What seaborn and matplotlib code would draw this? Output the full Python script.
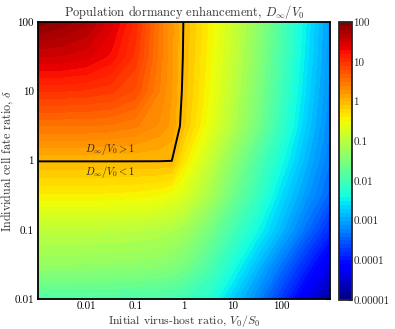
import numpy as np
import matplotlib
matplotlib.use('Agg')
import matplotlib.pyplot as plt
import seaborn as sns

sns.set_style('white')
plt.rcParams['font.family'] = ['cmr10', 'DejaVu Serif']
plt.rcParams['mathtext.fontset'] = 'cm'
plt.rcParams['axes.formatter.use_mathtext'] = True

# grid
# initial virus-host ratio V0/S0
ratio = [0.001, 0.00316, 0.01, 0.0316, 0.1, 0.316, 0.562, 1, 3.16, 10, 31.6, 100, 316, 1000]
# cell fate ratio delta
delta = [0.01, 0.0316, 0.1, 0.316, 1, 3.16, 10, 31.6, 100]

# log10(D_inf/V0), one list per delta row
d001 = [-1.85, -1.85, -1.86, -1.87, -1.89, -1.92, -1.96, -2.02, -2.22, -2.7, -3.2, -3.75, -4.3, -4.8]
d003 = [-1.3, -1.3, -1.31, -1.32, -1.34, -1.38, -1.43, -1.52, -1.85, -2.3, -2.8, -3.32, -3.85, -4.35]
d01 = [-0.95, -0.95, -0.95, -0.96, -0.98, -1.03, -1.08, -1.17, -1.52, -1.95, -2.38, -2.85, -3.35, -3.85]
d03 = [-0.42, -0.42, -0.42, -0.43, -0.45, -0.5, -0.57, -0.7, -1.1, -1.6, -2.05, -2.6, -3.05, -3.45]
d1 = [0.01, 0.01, 0.01, 0.01, 0.01, 0.01, 0.005, -0.35, -0.85, -1.35, -1.85, -2.35, -2.85, -3.3]
d3 = [0.5, 0.5, 0.5, 0.48, 0.42, 0.28, 0.17, -0.08, -0.57, -1.05, -1.55, -2.1, -2.7, -3.2]
d10 = [1.0, 1.0, 0.98, 0.93, 0.78, 0.4, 0.2, -0.04, -0.48, -0.95, -1.45, -2.0, -2.6, -3.15]
d31 = [1.5, 1.49, 1.43, 1.27, 0.97, 0.45, 0.22, -0.02, -0.44, -0.88, -1.38, -1.93, -2.53, -3.1]
d100 = [1.95, 1.86, 1.72, 1.45, 1.06, 0.47, 0.23, -0.01, -0.4, -0.83, -1.33, -1.88, -2.48, -3.07]

cbar_ticks = [-5, -4, -3, -2, -1, 0, 1, 2]
cbar_labels = ['0.00001', '0.0001', '0.001', '0.01', '0.1', '1', '10', '100']
x_ticks = [0.01, 0.1, 1, 10, 100]
x_labels = ['0.01', '0.1', '1', '10', '100']
y_ticks = [0.01, 0.1, 1, 10, 100]
y_labels = ['0.01', '0.1', '1', '10', '100']

# contour in log-log space so bands are straight between grid nodes
Z = np.array([d001, d003, d01, d03, d1, d3, d10, d31, d100])
X, Y = np.meshgrid(np.log10(ratio), np.log10(delta))

fig = plt.figure(figsize=(3.95, 3.29), dpi=100)
ax = fig.add_axes([0.096, 0.091, 0.739, 0.842])
cax = fig.add_axes([0.858, 0.088, 0.033, 0.845])

jet = plt.get_cmap('jet')
levels = np.linspace(-5, 2, 71)
cf = ax.contourf(X, Y, Z, levels=levels, cmap=jet, vmin=-5, vmax=2)
ax.contour(X, Y, Z, levels=[0], colors='k', linewidths=1.4)

ax.set_xlim(-3, 3)
ax.set_ylim(-2, 2)
ax.set_xticks(np.log10(x_ticks))
ax.set_xticklabels(x_labels)
ax.set_yticks(np.log10(y_ticks))
ax.set_yticklabels(y_labels)
ax.tick_params(direction='in', top=True, right=True, length=3, width=0.8,
               labelsize=8, pad=3, colors='k')
ax.tick_params(axis='x', pad=2)
for s in ax.spines.values():
    s.set_linewidth(1.3)
    s.set_color('k')

ax.text(np.log10(0.03), np.log10(1.45), r'$D_\infty/V_0>1$', fontsize=7.5, ha='center', va='center')
ax.text(np.log10(0.03), np.log10(0.69), r'$D_\infty/V_0<1$', fontsize=7.5, ha='center', va='center')

ax.set_title(r'Population dormancy enhancement, $D_\infty/V_0$', fontsize=9, pad=4, color='#333333')
ax.set_xlabel(r'Initial virus-host ratio, $V_0/S_0$', fontsize=8.5, color='#333333', va='top')
ax.xaxis.set_label_coords(0.5, -0.052)
ax.set_ylabel(r'Individual cell fate ratio, $\delta$', fontsize=8.7, color='#333333')
ax.yaxis.set_label_coords(-0.074, 0.5)

cb = fig.colorbar(cf, cax=cax, ticks=cbar_ticks)
cb.ax.set_yticklabels(cbar_labels)
cb.ax.tick_params(direction='in', length=3, width=0.8, labelsize=8, pad=1)
cb.outline.set_linewidth(1.3)
cb.ax.minorticks_off()

fig.savefig('out.png', dpi=100)
